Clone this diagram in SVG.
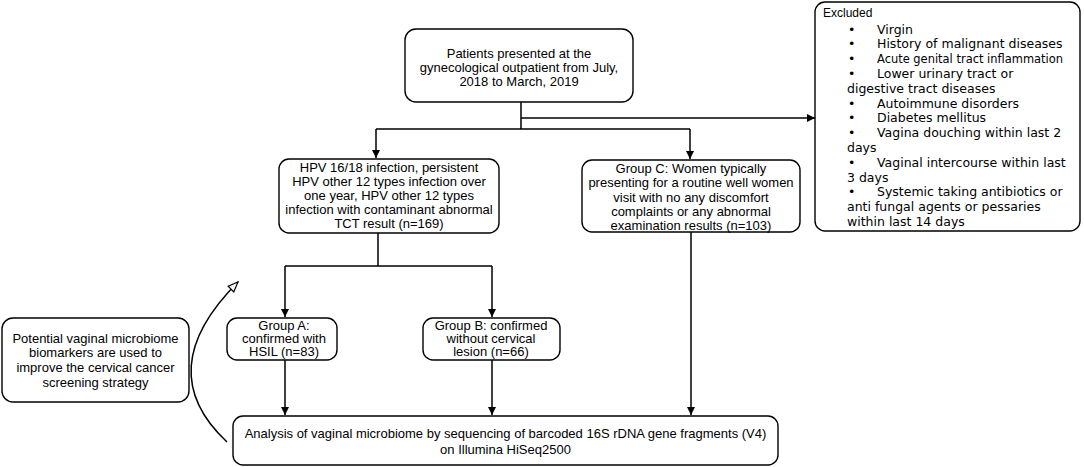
<svg xmlns="http://www.w3.org/2000/svg" width="1084" height="467" viewBox="0 0 1084 467">
<defs>
<marker id="ah" viewBox="0 0 10 10" refX="10" refY="5" markerWidth="8" markerHeight="8" markerUnits="userSpaceOnUse" orient="auto">
<path d="M0 0 L10 5 L0 10 Z" fill="#000"/>
</marker>
<marker id="oh" viewBox="0 0 12 10" refX="11" refY="5" markerWidth="12" markerHeight="10" markerUnits="userSpaceOnUse" orient="auto">
<path d="M1 1 L11 5 L1 9 Z" fill="#fff" stroke="#000" stroke-width="1.2"/>
</marker>
<style>
.box{fill:#fff;stroke:#000;stroke-width:1.4}
.t{font-family:"Liberation Sans",Arial,sans-serif;font-size:13px;fill:#000;text-anchor:middle}
.ex{font-family:"DejaVu Sans",sans-serif;font-size:12.5px;fill:#000}
.c{fill:none;stroke:#000;stroke-width:1.5}
</style>
</defs>
<rect width="1084" height="467" fill="#fff"/>
<g id="connectors">
<path class="c" d="M521 102 V129 M376 129 H690"/>
<path class="c" d="M376 129 V158" marker-end="url(#ah)"/>
<path class="c" d="M690 129 V159" marker-end="url(#ah)"/>
<path class="c" d="M521 118 H815" marker-end="url(#ah)"/>
<path class="c" d="M378 233 V266 M285 266 H492"/>
<path class="c" d="M285 266 V317" marker-end="url(#ah)"/>
<path class="c" d="M492 266 V317" marker-end="url(#ah)"/>
<path class="c" d="M285 360 V415" marker-end="url(#ah)"/>
<path class="c" d="M492 360 V415" marker-end="url(#ah)"/>
<path class="c" d="M691 232 V415" marker-end="url(#ah)"/>
<path class="c" stroke-width="1.3" d="M227 442 Q150 370 238 282" marker-end="url(#oh)"/>
</g>
<g id="patients">
<rect class="box" x="405" y="29" width="228" height="73" rx="11"/>
<text class="t" x="519"><tspan x="519" y="57.5">Patients presented at the</tspan><tspan x="519" y="71.5">gynecological outpatient from July,</tspan><tspan x="519" y="85.5">2018 to March, 2019</tspan></text>
</g>
<g id="excluded">
<rect class="box" x="815" y="2" width="265" height="229" rx="10"/>
<text font-family="Liberation Sans, Arial, sans-serif" font-size="12" x="823" y="17">Excluded</text>
<text class="ex">
<tspan x="848" y="33.5">•</tspan><tspan x="877" y="33.5">Virgin</tspan>
<tspan x="848" y="48.3">•</tspan><tspan x="877" y="48.3">History of malignant diseases</tspan>
<tspan x="848" y="63.1">•</tspan><tspan x="877" y="63.1" textLength="186" lengthAdjust="spacingAndGlyphs">Acute genital tract inflammation</tspan>
<tspan x="848" y="77.9">•</tspan><tspan x="877" y="77.9">Lower urinary tract or</tspan>
<tspan x="847" y="92.7">digestive tract diseases</tspan>
<tspan x="848" y="107.5">•</tspan><tspan x="877" y="107.5">Autoimmune disorders</tspan>
<tspan x="848" y="122.3">•</tspan><tspan x="877" y="122.3">Diabetes mellitus</tspan>
<tspan x="848" y="137.1">•</tspan><tspan x="877" y="137.1">Vagina douching within last 2</tspan>
<tspan x="847" y="151.9">days</tspan>
<tspan x="848" y="166.7">•</tspan><tspan x="877" y="166.7">Vaginal intercourse within last</tspan>
<tspan x="847" y="181.5">3 days</tspan>
<tspan x="848" y="196.3">•</tspan><tspan x="877" y="196.3">Systemic taking antibiotics or</tspan>
<tspan x="847" y="211.1">anti fungal agents or pessaries</tspan>
<tspan x="847" y="225.9">within last 14 days</tspan>
</text>
</g>
<g id="hpv">
<rect class="box" x="279" y="159" width="220" height="74" rx="10"/>
<text class="t"><tspan x="389" y="171.5">HPV 16/18 infection, persistent</tspan><tspan x="389" y="185.5">HPV other 12 types infection over</tspan><tspan x="389" y="199.5">one year, HPV other 12 types</tspan><tspan x="389" y="213.5">infection with contaminant abnormal</tspan><tspan x="389" y="227.5">TCT result (n=169)</tspan></text>
</g>
<g id="groupC">
<rect class="box" x="582" y="160" width="218" height="72" rx="10"/>
<text class="t"><tspan x="691" y="172.5">Group C: Women typically</tspan><tspan x="691" y="187">presenting for a routine well women</tspan><tspan x="691" y="201.5">visit with no any discomfort</tspan><tspan x="691" y="216">complaints or any abnormal</tspan><tspan x="691" y="230">examination results (n=103)</tspan></text>
</g>
<g id="groupA">
<rect class="box" x="227" y="318" width="110" height="42" rx="10"/>
<text class="t"><tspan x="284" y="330">Group A:</tspan><tspan x="284" y="343">confirmed with</tspan><tspan x="284" y="356">HSIL (n=83)</tspan></text>
</g>
<g id="groupB">
<rect class="box" x="423" y="318" width="137" height="42" rx="10"/>
<text class="t"><tspan x="491" y="330">Group B: confirmed</tspan><tspan x="491" y="343">without cervical</tspan><tspan x="491" y="356">lesion (n=66)</tspan></text>
</g>
<g id="analysis">
<rect class="box" x="233" y="416" width="545" height="49" rx="10"/>
<text class="t"><tspan x="505.5" y="437.5">Analysis of vaginal microbiome by sequencing of barcoded 16S rDNA gene fragments (V4)</tspan><tspan x="505.5" y="453.5">on Illumina HiSeq2500</tspan></text>
</g>
<g id="potential">
<rect class="box" x="2" y="318" width="187" height="84" rx="11"/>
<text class="t"><tspan x="95.5" y="342.5">Potential vaginal microbiome</tspan><tspan x="95.5" y="357">biomarkers are used to</tspan><tspan x="95.5" y="371.5">improve the cervical cancer</tspan><tspan x="95.5" y="386.5">screening strategy</tspan></text>
</g>
</svg>
